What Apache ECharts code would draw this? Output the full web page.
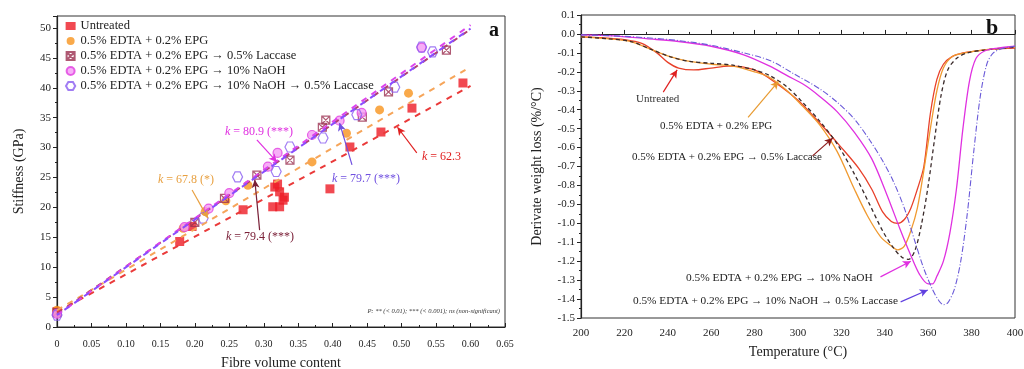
<!DOCTYPE html>
<html>
<head>
<meta charset="utf-8">
<script src="https://cdn.jsdelivr.net/npm/echarts@6/dist/echarts.min.js"></script>
<style>
  html, body { margin: 0; padding: 0; background: #fff; }
  #chart { width: 1024px; height: 369px; }
</style>
</head>
<body>
<div id="chart"></div>
<script>
// ---- panel a: stiffness vs fibre volume content ----
const seriesNames = [
  'Untreated',
  '0.5% EDTA + 0.2% EPG',
  '0.5% EDTA + 0.2% EPG → 0.5% Laccase',
  '0.5% EDTA + 0.2% EPG → 10% NaOH',
  '0.5% EDTA + 0.2% EPG → 10% NaOH → 0.5% Laccase'
];

const ptsUntreated = [[0, 2.6], [0.178, 14.3], [0.196, 16.8], [0.27, 19.6], [0.313, 20.1], [0.316, 23.4], [0.32, 23.9],
  [0.323, 22.6], [0.323, 20.1], [0.328, 21.2], [0.33, 21.7], [0.396, 23.1], [0.425, 30.1], [0.47, 32.6], [0.515, 36.6], [0.589, 40.8]];
const ptsEpg = [[0, 2.8], [0.183, 16.5], [0.215, 19.3], [0.245, 21.1], [0.277, 23.7], [0.37, 27.6], [0.42, 32.4], [0.468, 36.3], [0.51, 39.1]];
const ptsLaccase = [[0, 2.4], [0.2, 17.5], [0.243, 21.5], [0.29, 25.4], [0.338, 27.9], [0.385, 33.4], [0.39, 34.6], [0.443, 35.1], [0.481, 39.3], [0.565, 46.3]];
const ptsNaoh = [[0, 2.2], [0.185, 16.7], [0.22, 19.8], [0.25, 22.4], [0.306, 26.8], [0.32, 29.1], [0.37, 32.1], [0.41, 34.5], [0.442, 35.8], [0.529, 46.7]];
const ptsNaohLaccase = [[0, 2.0], [0.212, 18.2], [0.262, 25.1], [0.318, 26], [0.338, 30.1], [0.386, 31.6], [0.435, 35.5], [0.49, 40.1], [0.529, 46.8], [0.545, 46]];

// fitted lines, end points
const fitUntreated = [[0, 2.5], [0.6, 40.3]];
const fitEpg = [[0, 2.8], [0.6, 43.5]];
const fitLaccase = [[0, 2.2], [0.6, 49.8]];
const fitNaoh = [[0, 2.0], [0.6, 50.5]];
const fitNaohLaccase = [[0, 2.0], [0.6, 49.9]];

const slopeValues = ['62.3', '67.8 (*)', '79.4 (***)', '80.9 (***)', '79.7 (***)'];

// ---- panel b: DTG curves ----
const dtgUntreated = [[200, -0.015], [210, -0.02], [220, -0.03], [228, -0.05], [235, -0.1], [240, -0.15], [245, -0.18], [252, -0.19],
  [260, -0.18], [268, -0.17], [275, -0.175], [282, -0.2], [290, -0.26], [300, -0.35], [310, -0.47], [320, -0.6], [328, -0.71],
  [334, -0.82], [339, -0.94], [343, -0.99], [346, -1.0], [349, -0.98], [352, -0.92], [355, -0.82], [358, -0.7], [361, -0.42],
  [364, -0.24], [367, -0.16], [371, -0.12], [376, -0.1], [382, -0.09], [390, -0.08], [400, -0.075]];
const dtgEpg = [[200, -0.015], [212, -0.025], [223, -0.04], [232, -0.08], [241, -0.12], [250, -0.145], [260, -0.16], [270, -0.17],
  [280, -0.2], [287, -0.23], [295, -0.3], [302, -0.38], [310, -0.48], [318, -0.62], [326, -0.82], [332, -0.96], [338, -1.07],
  [343, -1.12], [346, -1.14], [349, -1.12], [352, -1.04], [355, -0.92], [358, -0.72], [361, -0.5], [364, -0.3], [367, -0.18],
  [371, -0.12], [377, -0.1], [385, -0.085], [400, -0.07]];
const dtgLaccase = [[200, -0.015], [212, -0.025], [223, -0.04], [232, -0.08], [241, -0.12], [250, -0.145], [260, -0.155], [270, -0.165],
  [280, -0.19], [287, -0.22], [295, -0.28], [302, -0.36], [310, -0.46], [318, -0.58], [326, -0.74], [333, -0.9], [339, -1.04],
  [344, -1.13], [348, -1.18], [351, -1.19], [354, -1.14], [357, -1.0], [360, -0.8], [363, -0.55], [366, -0.32], [369, -0.19],
  [373, -0.13], [378, -0.1], [386, -0.085], [400, -0.07]];
const dtgNaoh = [[200, -0.005], [215, -0.01], [230, -0.025], [245, -0.04], [260, -0.065], [275, -0.11], [287, -0.17], [295, -0.22],
  [303, -0.27], [310, -0.33], [318, -0.41], [326, -0.52], [334, -0.66], [341, -0.85], [347, -1.03], [352, -1.17], [356, -1.27],
  [360, -1.32], [362, -1.32], [364, -1.28], [367, -1.2], [370, -1.05], [373, -0.82], [376, -0.5], [379, -0.25], [382, -0.13],
  [386, -0.09], [392, -0.075], [400, -0.065]];
const dtgNaohLaccase = [[200, -0.005], [215, -0.01], [230, -0.02], [245, -0.035], [260, -0.06], [275, -0.1], [287, -0.14], [298, -0.21],
  [310, -0.29], [318, -0.36], [326, -0.45], [333, -0.56], [339, -0.67], [344, -0.78], [349, -0.92], [354, -1.1], [358, -1.24],
  [362, -1.35], [365, -1.41], [367, -1.43], [369, -1.42], [372, -1.35], [375, -1.2], [378, -0.95], [381, -0.62], [384, -0.33],
  [387, -0.16], [390, -0.1], [395, -0.075], [400, -0.065]];

const serif = "'Liberation Serif', 'DejaVu Serif', serif";
const colors = ['#ee1c25', '#f7941d', '#9b3050', '#e040e0', '#8a5cf0'];
const fitColors = ['#ea3a3a', '#f6a55a', '#b04070', '#dd44ee', '#8a4dff'];
const dtgColors = ['#e8402a', '#f09a30', '#3a2a2a', '#e030e0', '#6a5ad8'];

const crossSquare = 'path://M0 0H20V20H0ZM2 2L18 18M18 2L2 18';
const hexagon = 'path://M5 0L15 0L20 8.66L15 17.32L5 17.32L0 8.66Z';

function arrowLine(from, to, color) {
  return {
    silent: true,
    symbol: ['none', 'arrow'],
    symbolSize: [6, 8],
    lineStyle: { color: color, width: 1.2, type: 'solid' },
    label: { show: false },
    emphasis: { disabled: true },
    animation: false,
    data: [[{ coord: from }, { coord: to }]]
  };
}

// slope label "k = ..." with italic k
function slopeText(left, top, value, color) {
  return {
    type: 'text', left: left, top: top,
    style: {
      text: '{i|k} = ' + value,
      fill: color, font: '12px ' + serif,
      rich: { i: { fontStyle: 'italic', fontFamily: serif, fontSize: 12, fill: color } }
    }
  };
}

const chart = echarts.init(document.getElementById('chart'));

const axisLineStyle = { show: true, lineStyle: { color: '#222', width: 1.2 } };
const labelStyle = { color: '#222', fontFamily: serif, fontSize: 11 };

const option = {
  animation: false,
  backgroundColor: '#fff',
  grid: [
    { left: 57, right: 519, top: 16, bottom: 42, show: true, borderColor: '#333', borderWidth: 1, outerBoundsMode: 'none' },
    { left: 581, right: 9, top: 15, bottom: 51, show: true, borderColor: '#333', borderWidth: 1, outerBoundsMode: 'none' }
  ],
  legend: {
    orient: 'vertical',
    left: 60,
    top: 14,
    itemWidth: 10,
    itemHeight: 8,
    itemGap: 1,
    data: seriesNames,
    textStyle: { fontFamily: serif, fontSize: 12.5, color: '#222', lineHeight: 14 },
    selectedMode: false
  },
  xAxis: [
    {
      gridIndex: 0, type: 'value', min: 0, max: 0.65, interval: 0.05,
      name: 'Fibre volume content', nameLocation: 'middle', nameGap: 29,
      nameTextStyle: { fontFamily: serif, fontSize: 14, color: '#222' },
      axisLine: axisLineStyle,
      axisTick: { inside: true, length: 4, lineStyle: { color: '#222' } },
      minorTick: { show: true, splitNumber: 2, length: 2, lineStyle: { color: '#222' } },
      splitLine: { show: false },
      axisLabel: Object.assign({}, labelStyle, { fontSize: 10, margin: 12, formatter: v => v === 0 ? '0' : v.toFixed(2) })
    },
    {
      gridIndex: 1, type: 'value', min: 200, max: 400, interval: 20,
      name: 'Temperature (°C)', nameLocation: 'middle', nameGap: 27,
      nameTextStyle: { fontFamily: serif, fontSize: 14, color: '#222' },
      axisLine: axisLineStyle,
      axisTick: { inside: true, length: 4, lineStyle: { color: '#222' } },
      minorTick: { show: true, splitNumber: 2, length: 2, lineStyle: { color: '#222' } },
      splitLine: { show: false },
      axisLabel: Object.assign({}, labelStyle, { margin: 10 })
    }
  ],
  yAxis: [
    {
      gridIndex: 0, type: 'value', min: 0, max: 52, interval: 5,
      name: 'Stiffness (GPa)', nameLocation: 'middle', nameGap: 31,
      nameTextStyle: { fontFamily: serif, fontSize: 14, color: '#222' },
      axisLine: axisLineStyle,
      axisTick: { inside: false, length: 4, lineStyle: { color: '#222' } },
      minorTick: { show: true, splitNumber: 2, length: 2, lineStyle: { color: '#222' } },
      splitLine: { show: false },
      axisLabel: Object.assign({}, labelStyle, { margin: 6, formatter: v => v > 50 ? '' : String(v) })
    },
    {
      gridIndex: 1, type: 'value', min: -1.5, max: 0.1, interval: 0.1,
      name: 'Derivate weight loss (%/°C)', nameLocation: 'middle', nameGap: 37,
      nameTextStyle: { fontFamily: serif, fontSize: 14, color: '#222' },
      axisLine: axisLineStyle,
      axisTick: { inside: false, length: 4, lineStyle: { color: '#222' } },
      minorTick: { show: true, splitNumber: 2, length: 2, lineStyle: { color: '#222' } },
      splitLine: { show: false },
      axisLabel: Object.assign({}, labelStyle, { margin: 6, formatter: v => (Math.abs(v) < 1e-9 ? 0 : v).toFixed(1) })
    }
  ],
  series: [
    // fitted dashed lines (panel a), with the slope arrows
    { name: 'fit0', type: 'line', xAxisIndex: 0, yAxisIndex: 0, data: fitUntreated, symbol: 'none',
      lineStyle: { color: fitColors[0], width: 2, type: [6, 6] },
      markLine: arrowLine([0.522, 29.1], [0.494, 33.4], '#e02020') },
    { name: 'fit1', type: 'line', xAxisIndex: 0, yAxisIndex: 0, data: fitEpg, symbol: 'none',
      lineStyle: { color: fitColors[1], width: 2, type: [6, 6] },
      markLine: arrowLine([0.196, 22.9], [0.219, 18.2], '#e8a040') },
    { name: 'fit2', type: 'line', xAxisIndex: 0, yAxisIndex: 0, data: fitLaccase, symbol: 'none',
      lineStyle: { color: fitColors[2], width: 2, type: [6, 6] },
      markLine: arrowLine([0.294, 16.2], [0.287, 24.6], '#7a2038') },
    { name: 'fit3', type: 'line', xAxisIndex: 0, yAxisIndex: 0, data: fitNaoh, symbol: 'none',
      lineStyle: { color: fitColors[3], width: 2, type: [6, 6] },
      markLine: arrowLine([0.29, 31.3], [0.319, 27.6], '#e030e0') },
    { name: 'fit4', type: 'line', xAxisIndex: 0, yAxisIndex: 0, data: fitNaohLaccase, symbol: 'none',
      lineStyle: { color: fitColors[4], width: 2, type: [6, 6], dashOffset: 3 },
      markLine: arrowLine([0.428, 27.1], [0.41, 34.1], '#7050e0') },

    // scatter points
    { name: seriesNames[0], type: 'scatter', xAxisIndex: 0, yAxisIndex: 0, data: ptsUntreated,
      symbol: 'rect', symbolSize: 9, itemStyle: { color: colors[0] } },
    { name: seriesNames[1], type: 'scatter', xAxisIndex: 0, yAxisIndex: 0, data: ptsEpg,
      symbol: 'circle', symbolSize: 9, itemStyle: { color: colors[1] } },
    { name: seriesNames[2], type: 'scatter', xAxisIndex: 0, yAxisIndex: 0, data: ptsLaccase,
      symbol: crossSquare, symbolSize: 8, itemStyle: { color: 'rgba(0,0,0,0)', borderColor: colors[2], borderWidth: 1.2 } },
    { name: seriesNames[3], type: 'scatter', xAxisIndex: 0, yAxisIndex: 0, data: ptsNaoh,
      symbol: 'circle', symbolSize: 9, itemStyle: { color: '#f59af5', borderColor: colors[3], borderWidth: 1.2 } },
    { name: seriesNames[4], type: 'scatter', xAxisIndex: 0, yAxisIndex: 0, data: ptsNaohLaccase,
      symbol: hexagon, symbolSize: 10, itemStyle: { color: 'rgba(0,0,0,0)', borderColor: colors[4], borderWidth: 1.2 } },

    // DTG curves (panel b)
    { name: 'dtg0', type: 'line', xAxisIndex: 1, yAxisIndex: 1, data: dtgUntreated, symbol: 'none', smooth: 0.3,
      lineStyle: { color: dtgColors[0], width: 1.3 },
      markLine: arrowLine([237.9, -0.307], [244.3, -0.19], '#e02020') },
    { name: 'dtg1', type: 'line', xAxisIndex: 1, yAxisIndex: 1, data: dtgEpg, symbol: 'none', smooth: 0.3,
      lineStyle: { color: dtgColors[1], width: 1.3 },
      markLine: arrowLine([277, -0.44], [291, -0.25], '#e89a30') },
    { name: 'dtg2', type: 'line', xAxisIndex: 1, yAxisIndex: 1, data: dtgLaccase, symbol: 'none', smooth: 0.3,
      lineStyle: { color: dtgColors[2], width: 1.3, type: [4, 3] },
      markLine: arrowLine([306.7, -0.644], [316, -0.55], '#8b1a1a') },
    { name: 'dtg3', type: 'line', xAxisIndex: 1, yAxisIndex: 1, data: dtgNaoh, symbol: 'none', smooth: 0.3,
      lineStyle: { color: dtgColors[3], width: 1.3 },
      markLine: arrowLine([338, -1.283], [352, -1.2], '#e030e0') },
    { name: 'dtg4', type: 'line', xAxisIndex: 1, yAxisIndex: 1, data: dtgNaohLaccase, symbol: 'none', smooth: 0.3,
      lineStyle: { color: dtgColors[4], width: 1.1, type: [6, 2, 1, 2] },
      markLine: arrowLine([347.3, -1.415], [359.8, -1.352], '#6040e0') }
  ],
  graphic: [
    // panel letters
    { type: 'text', left: 489, top: 21, style: { text: 'a', font: 'bold 20px ' + serif, fill: '#111' } },
    { type: 'text', left: 986, top: 17, style: { text: 'b', font: 'bold 22px ' + serif, fill: '#111' } },
    // slope labels (panel a)
    slopeText(422, 151, slopeValues[0], '#e02020'),
    slopeText(158, 174, slopeValues[1], '#e8a040'),
    slopeText(226, 231, slopeValues[2], '#7a2038'),
    slopeText(225, 126, slopeValues[3], '#e030e0'),
    slopeText(332, 173, slopeValues[4], '#7050e0'),
    { type: 'text', right: 524, top: 308, style: { text: 'P: ** (< 0.01); *** (< 0.001); ns (non-significant)', font: 'italic 6.5px ' + serif, fill: '#333' } },
    // curve labels (panel b)
    { type: 'text', left: 636, top: 94, style: { text: 'Untreated', font: '11px ' + serif, fill: '#333' } },
    { type: 'text', left: 660, top: 121, style: { text: seriesNames[1], font: '11px ' + serif, fill: '#222' } },
    { type: 'text', left: 632, top: 152, style: { text: seriesNames[2], font: '11px ' + serif, fill: '#222' } },
    { type: 'text', left: 686, top: 273, style: { text: seriesNames[3], font: '11.4px ' + serif, fill: '#222' } },
    { type: 'text', left: 633, top: 296, style: { text: seriesNames[4], font: '11.3px ' + serif, fill: '#222' } }
  ]
};

chart.setOption(option);
</script>
</body>
</html>
